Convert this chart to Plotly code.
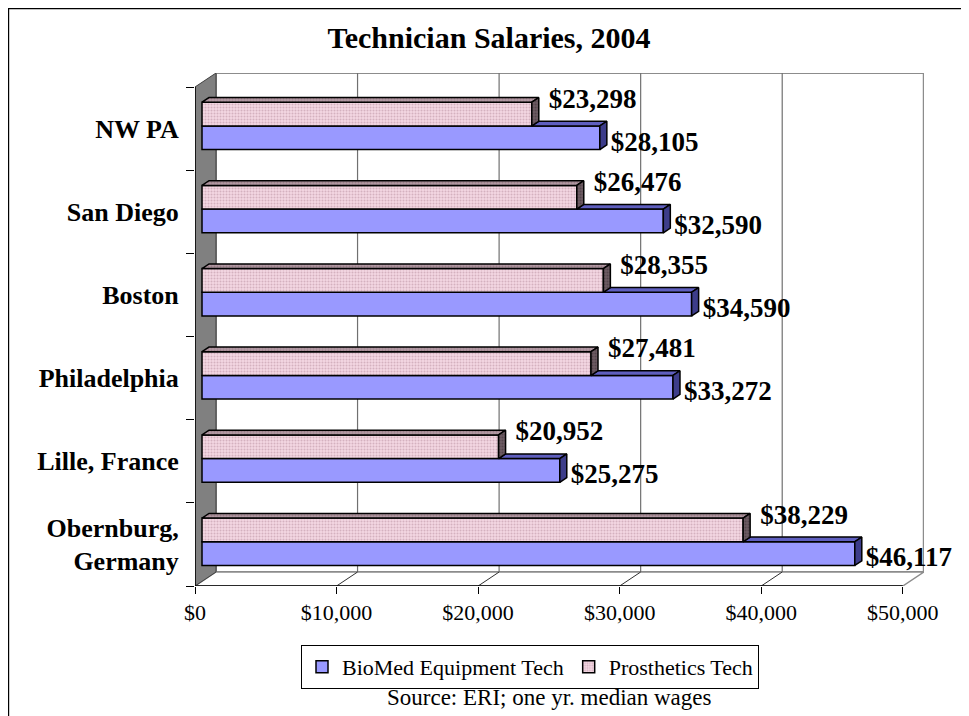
import plotly.graph_objects as go

# dados (de baixo para cima)
categorias = ["Obernburg,<br>Germany", "Lille, France", "Philadelphia", "Boston", "San Diego", "NW PA"]
biomed = [46117, 25275, 33272, 34590, 32590, 28105]
protese = [38229, 20952, 27481, 28355, 26476, 23298]
x_ticks = [0, 10000, 20000, 30000, 40000, 50000]
x_ticktext = ["$0", "$10,000", "$20,000", "$30,000", "$40,000", "$50,000"]

FONTE = "Liberation Serif, Times New Roman, serif"

# geometria da figura (pixels); a pagina tem margem de 8px no body
W, H = 961, 708
ML, MR, MT, MB = 187, 45, 65, 130
PW, PH = W - ML - MR, H - MT - MB
X_RANGE = 51500
usd_px = X_RANGE / PW                     # dolares por pixel
unit_px = (PH - 14) / 6                   # pixels por categoria
DX = 21 * usd_px                          # profundidade da parede
DY = 14 / unit_px
X_MAX = x_ticks[-1]

# barras ficam no terco da profundidade
base = DX / 3
lift = DY / 3
d, dd = DX / 3, DY / 3
h = 0.285

pos = list(range(len(categorias)))
y_rosa = [i + lift + h / 2 - 2 / unit_px for i in pos]
y_azul = [i + lift - h / 2 - 2 / unit_px for i in pos]


def poligonos(lista):
    xs, ys = [], []
    for pts in lista:
        for (px, py) in pts + [pts[0]]:
            xs.append(px)
            ys.append(py)
        xs.append(None)
        ys.append(None)
    return xs, ys


topo_azul, lado_azul, topo_rosa, lado_rosa = [], [], [], []
for i, b, p, yr in zip(pos, biomed, protese, y_rosa):
    yt = yr - h / 2
    x0 = base
    lado_azul.append([(x0 + b, yt - h), (x0 + b, yt), (x0 + b + d, yt + dd), (x0 + b + d, yt - h + dd)])
    topo_azul.append([(x0 + p, yt), (x0 + b, yt), (x0 + b + d, yt + dd), (x0 + p + d, yt + dd)])
    topo_rosa.append([(x0, yt + h), (x0 + p, yt + h), (x0 + p + d, yt + h + dd), (x0 + d, yt + h + dd)])
    lado_rosa.append([(x0 + p, yt), (x0 + p, yt + h), (x0 + p + d, yt + h + dd), (x0 + p + d, yt + dd)])

fig = go.Figure()

# faces frontais
fig.add_trace(go.Bar(
    y=y_azul, x=biomed, base=base, orientation="h", width=h,
    name="BioMed Equipment Tech",
    marker=dict(color="#9999ff", line=dict(color="black", width=1.5)),
    hoverinfo="skip",
))
fig.add_trace(go.Bar(
    y=y_rosa, x=protese, base=base, orientation="h", width=h,
    name="Prosthetics Tech",
    marker=dict(color="#f3d6e2", line=dict(color="black", width=1.5),
                pattern=dict(shape=".", fgcolor="#b68c9c", size=3, solidity=0.35)),
    hoverinfo="skip",
))

# faces 3D
faces = [
    (topo_azul, "#5f5fbf", None),
    (lado_azul, "#3d3d8a", None),
    (topo_rosa, "#b49aa4", dict(shape=".", fgcolor="#7a6068", size=3, solidity=0.4)),
    (lado_rosa, "#6e5c63", dict(shape=".", fgcolor="#3a2e33", size=3, solidity=0.4)),
]
for lista, cor, padrao in faces:
    xs, ys = poligonos(lista)
    tr = go.Scatter(x=xs, y=ys, mode="lines", fill="toself", fillcolor=cor,
                    line=dict(color="black", width=1.5), showlegend=False, hoverinfo="skip")
    if padrao:
        tr.fillpattern = padrao
    fig.add_trace(tr)

# rotulos dos valores
rotulo = dict(family=FONTE, size=27, color="black", weight="bold")
fig.add_trace(go.Scatter(
    x=[base + v + 17 * usd_px for v in protese],
    y=[y + 13 / unit_px for y in y_rosa],
    mode="text", text=[f"${v:,}" for v in protese], textposition="middle right",
    textfont=rotulo, cliponaxis=False, showlegend=False, hoverinfo="skip",
))
fig.add_trace(go.Scatter(
    x=[base + v + 11 * usd_px for v in biomed],
    y=[y - 6 / unit_px for y in y_azul],
    mode="text", text=[f"${v:,}" for v in biomed], textposition="middle right",
    textfont=rotulo, cliponaxis=False, showlegend=False, hoverinfo="skip",
))

# paredes, chao e grade
y0, y1 = -0.5, len(categorias) - 0.5
shapes = [
    dict(type="rect", xref="x", yref="y", x0=DX, x1=X_MAX + DX, y0=y0 + DY, y1=y1 + DY,
         fillcolor="white", line=dict(color="#8c8c8c", width=2), layer="below"),
    dict(type="path", xref="x", yref="y", layer="below",
         path=f"M 0,{y0} L {DX},{y0 + DY} L {X_MAX + DX},{y0 + DY} L {X_MAX},{y0} Z",
         fillcolor="white", line=dict(color="#8c8c8c", width=1.5)),
    dict(type="path", xref="x", yref="y", layer="below",
         path=f"M 0,{y0} L 0,{y1} L {DX},{y1 + DY} L {DX},{y0 + DY} Z",
         fillcolor="#808080", line=dict(color="#404040", width=1)),
]
for t in x_ticks[1:-1]:
    shapes.append(dict(type="line", xref="x", yref="y", x0=t + DX, x1=t + DX, y0=y0 + DY, y1=y1 + DY,
                       line=dict(color="#707070", width=1.2), layer="below"))
    shapes.append(dict(type="line", xref="x", yref="y", x0=t, x1=t + DX, y0=y0, y1=y0 + DY,
                       line=dict(color="#303030", width=1), layer="below"))
# eixos
shapes.append(dict(type="line", xref="x", yref="y", x0=0, x1=X_MAX, y0=y0, y1=y0,
                   line=dict(color="black", width=1.5)))
shapes.append(dict(type="line", xref="x", yref="y", x0=0, x1=0, y0=y0, y1=y1,
                   line=dict(color="black", width=1.5)))
# moldura externa
shapes.append(dict(type="rect", xref="paper", yref="paper",
                   x0=-(ML - 0.6) / PW, x1=2,
                   y0=-1, y1=1 + (MT - 0.6) / PH,
                   line=dict(color="black", width=1.2)))

fig.update_layout(
    width=W, height=H,
    margin=dict(l=ML, r=MR, t=MT, b=MB),
    paper_bgcolor="white", plot_bgcolor="white",
    barmode="overlay",
    font=dict(family=FONTE, color="black"),
    title=dict(text="<b>Technician Salaries, 2004</b>", x=481 / W, xanchor="center",
               y=1 - 29 / H, yanchor="middle", font=dict(family=FONTE, size=30)),
    shapes=shapes,
    showlegend=True,
    legend=dict(orientation="h", x=(522 - ML) / PW, xanchor="center",
                y=-(637 - (H - MB)) / PH, yanchor="top",
                bordercolor="black", borderwidth=1, bgcolor="white",
                font=dict(family=FONTE, size=22), traceorder="normal"),
    annotations=[dict(text="Source: ERI; one yr. median wages", xref="paper", yref="paper",
                      x=(541 - ML) / PW, y=-(689 - (H - MB)) / PH,
                      xanchor="center", yanchor="middle", showarrow=False,
                      font=dict(family=FONTE, size=23))],
)

fig.update_xaxes(range=[0, X_RANGE], tickvals=x_ticks, ticktext=x_ticktext,
                 ticks="outside", ticklen=7, tickcolor="black", showgrid=False,
                 zeroline=False, showline=False, tickfont=dict(family=FONTE, size=22))
fig.update_yaxes(range=[y0, y1 + DY], tickvals=pos, ticktext=categorias,
                 ticks="outside", ticklen=10, tickcolor="rgba(0,0,0,0)",
                 showgrid=False, zeroline=False, showline=False,
                 tickfont=dict(family=FONTE, size=26, weight="bold"),
                 minor=dict(tickmode="array", tickvals=[k - 0.5 for k in range(len(categorias) + 1)],
                            ticks="outside", ticklen=8, tickcolor="black", showgrid=False))

fig.write_html("out.html")
